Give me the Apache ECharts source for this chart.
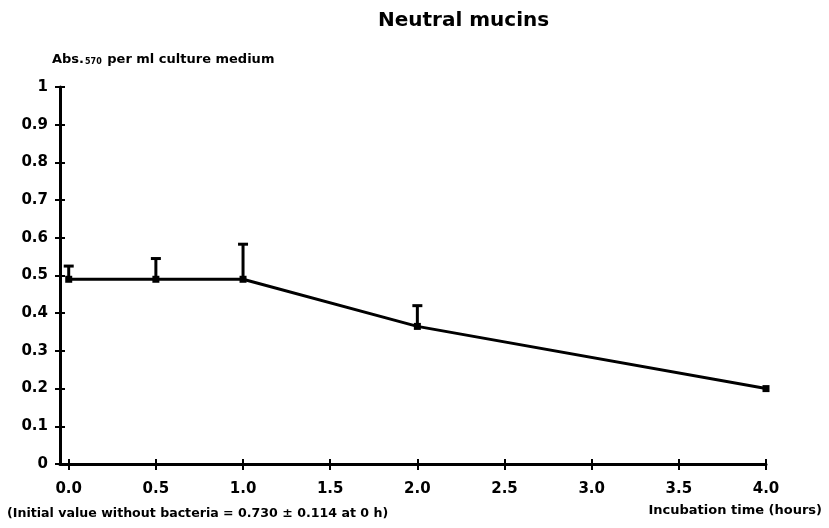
<!DOCTYPE html>
<html><head><meta charset="utf-8">
<script src="https://cdn.jsdelivr.net/npm/echarts@6/dist/echarts.min.js"></script>
<style>html,body{margin:0;padding:0;background:#fff}#c{width:829px;height:528px}</style>
</head><body><div id="c"></div>
<script>
var times = [0.0, 0.5, 1.0, 2.0, 4.0];
var means = [0.49, 0.49, 0.49, 0.365, 0.20];
var errUpper = [0.525, 0.545, 0.583, 0.42, 0.20];
var xTicks = ['0.0','0.5','1.0','1.5','2.0','2.5','3.0','3.5','4.0'];
var yTicks = ['0','0.1','0.2','0.3','0.4','0.5','0.6','0.7','0.8','0.9','1'];

var font = '"DejaVu Sans", sans-serif';
var chart = echarts.init(document.getElementById('c'));
var lineData = times.map(function(t,i){return [t, means[i]];});
var errData = times.map(function(t,i){return [t, means[i], errUpper[i]];}).filter(function(d){return d[2] > d[1] + 0.001;});
var tickVals = [0,0.5,1,1.5,2,2.5,3,3.5,4];

chart.setOption({
  animation: false,
  title: {
    text: 'Neutral mucins', left: 373, top: 6,
    textStyle: {fontFamily: font, fontSize: 20, fontWeight: 'bold', color: '#000'}
  },
  graphic: [
    {type: 'text', left: 52, top: 53, style: {
      text: '{a|Abs.}{s|570}{a| per ml culture medium}',
      rich: {
        a: {fontFamily: font, fontSize: 13, fontWeight: 'bold', fill: '#000'},
        s: {fontFamily: font, fontSize: 8, fontWeight: 'bold', fill: '#000', verticalAlign: 'bottom', padding: [4,1,0,1]}
      }
    }},
    {type: 'text', left: 7, top: 507, style: {
      text: '(Initial value without bacteria = 0.730 \u00b1 0.114 at 0 h)',
      fontFamily: font, fontSize: 12.6, fontWeight: 'bold', fill: '#000'
    }},
    {type: 'text', right: 7, top: 504, style: {
      text: 'Incubation time (hours)',
      fontFamily: font, fontSize: 13, fontWeight: 'bold', fill: '#000'
    }}
  ],
  grid: {left: 60, right: 63, top: 87, bottom: 64, containLabel: false},
  xAxis: [{
    type: 'value', min: -0.05, max: 4,
    axisLine: {show: true, onZero: false, lineStyle: {color: '#000', width: 3}},
    axisTick: {show: true, length: 6, lineStyle: {color: '#000', width: 2}, customValues: tickVals},
    axisLabel: {show: true, margin: 18, fontFamily: font, fontSize: 15, fontWeight: 'bold', color: '#000',
      customValues: tickVals,
      formatter: function(v){ var i = Math.round(v/0.5); return xTicks[i] !== undefined ? xTicks[i] : ''; }},
    splitLine: {show: false}
  },{
    type: 'value', min: -0.05, max: 4, position: 'bottom',
    axisLine: {show: false, onZero: false},
    axisTick: {show: true, inside: true, length: 5, lineStyle: {color: '#000', width: 2}, customValues: tickVals},
    axisLabel: {show: false}, splitLine: {show: false}
  }],
  yAxis: [{
    type: 'value', min: 0, max: 1, interval: 0.1,
    axisLine: {show: true, onZero: false, lineStyle: {color: '#000', width: 3}},
    axisTick: {show: true, length: 5, lineStyle: {color: '#000', width: 2}},
    axisLabel: {margin: 12, fontFamily: font, fontSize: 15, fontWeight: 'bold', color: '#000',
      formatter: function(v){ var i = Math.round(v*10); return yTicks[i]; }},
    splitLine: {show: false}
  },{
    type: 'value', min: 0, max: 1, interval: 0.1, position: 'left',
    axisLine: {show: false, onZero: false},
    axisTick: {show: true, inside: true, length: 5, lineStyle: {color: '#000', width: 2}},
    axisLabel: {show: false}, splitLine: {show: false}
  }],
  series: [{
    type: 'line', data: lineData, xAxisIndex: 0, yAxisIndex: 0,
    symbol: 'rect', symbolSize: 7,
    lineStyle: {color: '#000', width: 3},
    itemStyle: {color: '#000'}
  },{
    type: 'custom', data: errData, xAxisIndex: 0, yAxisIndex: 0,
    renderItem: function(params, api){
      var lo = api.coord([api.value(0), api.value(1)]);
      var hi = api.coord([api.value(0), api.value(2)]);
      return {type: 'group', children: [
        {type: 'line', shape: {x1: lo[0], y1: lo[1], x2: hi[0], y2: hi[1]}, style: {stroke: '#000', lineWidth: 3}},
        {type: 'line', shape: {x1: hi[0]-5, y1: hi[1], x2: hi[0]+5, y2: hi[1]}, style: {stroke: '#000', lineWidth: 3}}
      ]};
    },
    z: 3
  }]
});
</script></body></html>
